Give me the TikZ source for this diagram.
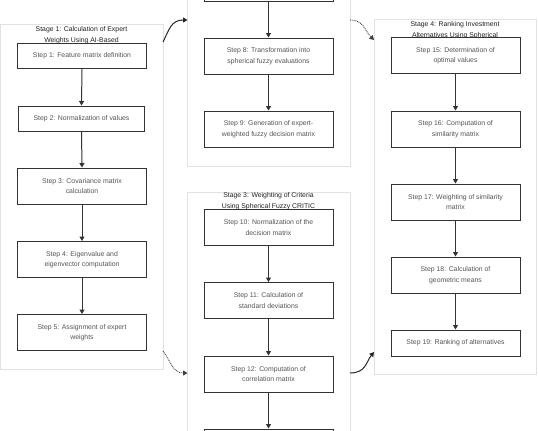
\documentclass[tikz,border=0pt]{standalone}
\usepackage{fontspec}
\setmainfont{Liberation Sans}
\usetikzlibrary{arrows.meta}
\definecolor{boxline}{HTML}{333333}
\definecolor{steptext}{HTML}{555555}
\definecolor{titletext}{HTML}{222222}
\definecolor{contline}{HTML}{E2E2E2}
\begin{document}
\begin{tikzpicture}[x=1bp,y=-1bp,
  container/.style={draw=contline,line width=0.9bp,fill=white},
  stepbox/.style={draw=boxline,line width=1bp,fill=white,rectangle,
    minimum width=128bp,minimum height=36bp,inner sep=0pt,align=center,
    text=steptext,font=\fontsize{6.9}{10.5}\selectfont},
  stagetitle/.style={align=center,inner sep=0pt,text=titletext,
    font=\fontsize{6.9}{10.5}\selectfont},
  flow/.style={draw=boxline,line width=1bp,-{Triangle[width=5bp,length=4.5bp]}},
  link/.style={draw=black!85,line width=1bp,-{Triangle[width=5bp,length=4.5bp]}},
  dotlink/.style={draw=black!75,line width=0.9bp,dash pattern=on 0.9bp off 0.9bp,
    -{Triangle[width=5bp,length=4.5bp]}}]
\useasboundingbox (0,0) rectangle (538,430);
\clip (0,0) rectangle (538,430);
\fill[white] (0,0) rectangle (538,430);

% containers
\draw[container] (0.5,24) rectangle (163,369);
\draw[container] (187.5,-10) rectangle (350,166);
\draw[container] (187.5,192) rectangle (350,445);
\draw[container] (374,19) rectangle (536,374);

% stage titles
\node[stagetitle] (t1) at (81.5,35) {Stage 1: Calculation of Expert\\Weights Using AI-Based};
\node[stagetitle] (t3) at (268.5,201) {Stage 3: Weighting of Criteria\\Using Spherical Fuzzy CRITIC};
\node[stagetitle] (t4) at (455,30) {Stage 4: Ranking Investment\\Alternatives Using Spherical};

% stage 1
\node[stepbox,minimum height=25bp] (s1) at (82,55.5) {Step 1: Feature matrix definition};
\node[stepbox,minimum height=25bp,minimum width=125bp] (s2) at (81.5,118.5) {Step 2: Normalization of values};
\node[stepbox] (s3) at (82,186) {Step 3: Covariance matrix\\calculation};
\node[stepbox] (s4) at (82,259.5) {Step 4: Eigenvalue and\\eigenvector computation};
\node[stepbox] (s5) at (82,332.5) {Step 5: Assignment of expert\\weights};

% stage 2
\node[stepbox,minimum width=129bp] (s7) at (268.5,-17) {};
\node[stepbox,minimum width=129bp] (s8) at (268.5,56) {Step 8: Transformation into\\spherical fuzzy evaluations};
\node[stepbox,minimum width=129bp] (s9) at (268.5,129) {Step 9: Generation of expert-\\weighted fuzzy decision matrix};

% stage 3
\node[stepbox,minimum width=129bp] (s10) at (268.5,227.5) {Step 10: Normalization of the\\decision matrix};
\node[stepbox,minimum width=129bp] (s11) at (268.5,300.5) {Step 11: Calculation of\\standard deviations};
\node[stepbox,minimum width=129bp] (s12) at (268.5,374) {Step 12: Computation of\\correlation matrix};
\node[stepbox,minimum width=129bp] (s13) at (268.5,447) {};

% stage 4
\node[stepbox,minimum width=129bp] (s15) at (455.5,55.5) {Step 15: Determination of\\optimal values};
\node[stepbox,minimum width=129bp] (s16) at (455.5,129) {Step 16: Computation of\\similarity matrix};
\node[stepbox,minimum width=129bp] (s17) at (455.5,202) {Step 17: Weighting of similarity\\matrix};
\node[stepbox,minimum width=129bp] (s18) at (455.5,275) {Step 18: Calculation of\\geometric means};
\node[stepbox,minimum width=129bp,minimum height=26bp] (s19) at (455.5,343) {Step 19: Ranking of alternatives};

% flows within stages
\foreach \a/\b in {s1/s2,s2/s3,s3/s4,s4/s5,s7/s8,s8/s9,s10/s11,s11/s12,s12/s13,s15/s16,s16/s17,s17/s18,s18/s19}
  \draw[flow] (\a.south) -- (\b.north);

% links between stages
\coordinate (a1) at (163,42);
\coordinate (b1) at (187.5,20);
\coordinate (a2) at (350,20);
\coordinate (b2) at (374,40);
\coordinate (a3) at (163,351);
\coordinate (b3) at (187.5,373);
\coordinate (a4) at (350,373);
\coordinate (b4) at (374,352);
\draw[link] (a1) .. controls (169,30) and (171,20) .. (b1);
\draw[dotlink] (a2) .. controls (364,20) and (364,30) .. (b2);
\draw[dotlink] (a3) .. controls (171,362) and (173,373) .. (b3);
\draw[link] (a4) .. controls (366,373) and (366,362) .. (b4);
\end{tikzpicture}
\end{document}
